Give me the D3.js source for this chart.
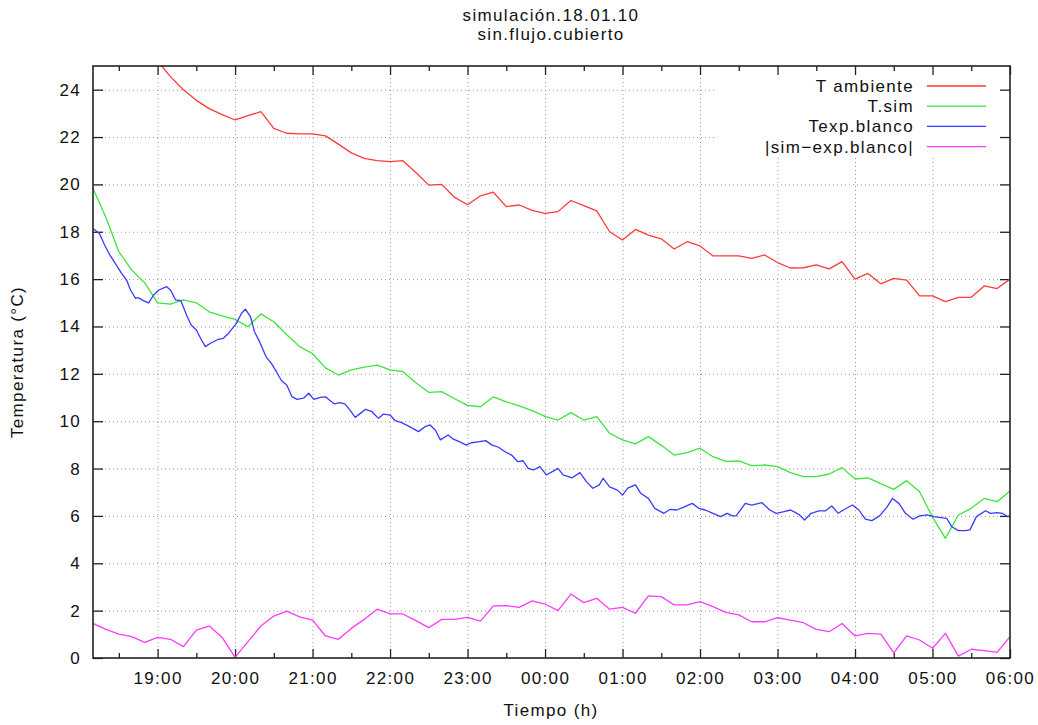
<!DOCTYPE html>
<html lang="es">
<head>
<meta charset="UTF-8">
<title>simulación.18.01.10</title>
<script src="https://d3js.org/d3.v7.min.js"></script>
<style>
  body { margin: 0; background: #fff; }
  text { font-family: "Liberation Sans", Arial, sans-serif; font-size: 17px; letter-spacing: 1.35px; fill: #111; }
</style>
</head>
<body>
<script>
    const width  = 1038;
    const height = 725;
    const margin = {top: 66, right: 28, bottom: 67, left: 93};
    const w = width - margin.left - margin.right;
    const h = height - margin.top - margin.bottom;

    // 10 minute samples (T ambiente, T.sim, |sim-exp|)
    const sampleTimes = [
        "18:10","18:20","18:30","18:40","18:50",
        "19:00","19:10","19:20","19:30","19:40","19:50",
        "20:00","20:10","20:20","20:30","20:40","20:50",
        "21:00","21:10","21:20","21:30","21:40","21:50",
        "22:00","22:10","22:20","22:30","22:40","22:50",
        "23:00","23:10","23:20","23:30","23:40","23:50",
        "00:00","00:10","00:20","00:30","00:40","00:50",
        "01:00","01:10","01:20","01:30","01:40","01:50",
        "02:00","02:10","02:20","02:30","02:40","02:50",
        "03:00","03:10","03:20","03:30","03:40","03:50",
        "04:00","04:10","04:20","04:30","04:40","04:50",
        "05:00","05:10","05:20","05:30","05:40","05:50",
        "06:00"
    ];

    const tAmbiente = [
        28.3,27.6,27.0,26.4,25.8,
        25.2,24.55,24.0,23.55,23.2,22.95,
        22.72,22.9,23.07,22.37,22.16,22.13,
        22.13,22.05,21.7,21.33,21.1,21.0,
        20.96,21.0,20.5,19.97,20.0,19.45,
        19.14,19.52,19.67,19.06,19.13,18.9,
        18.78,18.85,19.32,19.1,18.88,18.0,
        17.65,18.1,17.86,17.7,17.27,17.58,
        17.4,16.98,16.98,16.98,16.88,17.02,
        16.7,16.47,16.48,16.6,16.43,16.74,
        16.0,16.24,15.8,16.03,15.96,15.29,
        15.29,15.05,15.23,15.23,15.71,15.6,
        16.0
    ];

    const tSim = [
        19.83,18.6,17.16,16.38,15.85,
        15.0,14.94,15.12,15.0,14.62,14.45,
        14.3,13.99,14.53,14.2,13.65,13.15,
        12.85,12.25,11.95,12.17,12.28,12.37,
        12.17,12.09,11.62,11.22,11.25,10.95,
        10.67,10.61,11.03,10.82,10.65,10.45,
        10.2,10.05,10.36,10.05,10.19,9.49,
        9.21,9.04,9.35,8.98,8.57,8.67,
        8.86,8.5,8.3,8.32,8.12,8.15,
        8.08,7.83,7.66,7.66,7.77,8.04,
        7.56,7.61,7.36,7.12,7.49,7.02,
        5.95,5.05,6.04,6.32,6.74,6.6,
        7.05
    ];

    const simExpDiff = [
        1.46,1.21,1.01,0.9,0.66,
        0.87,0.79,0.48,1.18,1.35,0.87,
        0.03,0.69,1.35,1.77,1.98,1.74,
        1.6,0.93,0.79,1.25,1.63,2.06,
        1.86,1.86,1.58,1.28,1.63,1.63,
        1.72,1.56,2.2,2.21,2.14,2.41,
        2.28,2.0,2.70,2.34,2.52,2.06,
        2.14,1.89,2.62,2.59,2.24,2.24,
        2.38,2.17,1.93,1.82,1.53,1.53,
        1.7,1.6,1.49,1.21,1.11,1.46,
        0.93,1.04,1.01,0.22,0.93,0.76,
        0.41,1.04,0.08,0.37,0.31,0.24,
        0.9
    ];

    // measured series (Texp.blanco), irregular times
    const blueTimes = [
        "18:10","18:15","18:19","18:23","18:28","18:32","18:36","18:39","18:43","18:45",
        "18:49","18:53","18:57","19:01","19:07","19:10","19:14","19:18","19:23","19:26",
        "19:30","19:34","19:37","19:41","19:47","19:51","19:56","20:01","20:05","20:08",
        "20:12","20:15","20:19","20:24","20:28","20:32","20:36","20:40","20:44","20:48",
        "20:53","20:57","21:01","21:06","21:10","21:13","21:17","21:21","21:25","21:29",
        "21:33","21:37","21:41","21:46","21:51","21:55","22:00","22:04","22:09","22:15",
        "22:22","22:27","22:31","22:35","22:39","22:45","22:49","22:54","22:59","23:03",
        "23:08","23:14","23:19","23:24","23:29","23:34","23:39","23:43","23:47","23:51",
        "23:56","00:01","00:06","00:10","00:14","00:21","00:27","00:32","00:37","00:42",
        "00:45","00:50","00:56","01:00","01:04","01:10","01:14","01:20","01:25","01:32",
        "01:37","01:42","01:47","01:54","01:59","02:04","02:10","02:16","02:21","02:25",
        "02:28","02:35","02:40","02:48","02:54","02:59","03:05","03:10","03:14","03:17",
        "03:21","03:26","03:32","03:37","03:42","03:47","03:52","03:58","04:03","04:08",
        "04:13","04:19","04:25","04:29","04:34","04:39","04:45","04:50","04:56","05:01",
        "05:11","05:15","05:20","05:25","05:29","05:34","05:41","05:45","05:50","05:54",
        "05:58","06:00"
    ];
    const blueValues = [
        18.14,17.93,17.44,17.02,16.6,16.25,15.96,15.54,15.19,15.22,
        15.09,15.0,15.33,15.54,15.68,15.54,15.12,15.09,14.41,14.06,
        13.85,13.43,13.15,13.29,13.46,13.5,13.78,14.13,14.56,14.73,
        14.41,13.78,13.36,12.72,12.45,12.09,11.71,11.53,11.04,10.92,
        10.97,11.18,10.92,11.01,11.03,10.9,10.73,10.78,10.73,10.47,
        10.16,10.33,10.5,10.4,10.12,10.3,10.26,10.02,9.94,9.77,
        9.56,9.77,9.84,9.63,9.21,9.42,9.24,9.13,8.99,9.09,
        9.13,9.18,8.99,8.9,8.71,8.57,8.29,8.33,8.01,7.94,
        8.08,7.73,7.88,8.01,7.73,7.61,7.83,7.45,7.17,7.31,
        7.59,7.23,7.09,6.88,7.17,7.31,6.96,6.74,6.32,6.11,
        6.28,6.25,6.36,6.53,6.32,6.25,6.11,5.97,6.11,6.0,
        6.0,6.53,6.46,6.56,6.25,6.11,6.18,6.25,6.14,6.04,
        5.83,6.11,6.21,6.21,6.42,6.11,6.28,6.46,6.25,5.86,
        5.8,6.0,6.39,6.74,6.53,6.11,5.86,6.0,6.04,5.97,
        5.9,5.54,5.38,5.38,5.41,5.97,6.22,6.11,6.14,6.11,
        5.97,6.0
    ];

    const hourTicks = ["19:00","20:00","21:00","22:00","23:00","00:00",
                       "01:00","02:00","03:00","04:00","05:00","06:00"];
    const halfHourTicks = ["18:30","19:30","20:30","21:30","22:30","23:30",
                           "00:30","01:30","02:30","03:30","04:30","05:30"];
    const yTicks = [0,2,4,6,8,10,12,14,16,18,20,22,24];

    const seriesNames  = ["T ambiente", "T.sim", "Texp.blanco", "|sim\u2212exp.blanco|"];
    const seriesColors = ["#ff3a3a", "#3ae63a", "#3a3aff", "#ff3aff"];

    // evening belongs to 18.01.10, early hours to the next day
    function toDate(s) {
        const [hh, mm] = s.split(":").map(Number);
        return new Date(2010, 0, hh < 12 ? 19 : 18, hh, mm);
    }

    const series = [
        sampleTimes.map((t, i) => ({t: toDate(t), v: tAmbiente[i]})),
        sampleTimes.map((t, i) => ({t: toDate(t), v: tSim[i]})),
        blueTimes.map((t, i) => ({t: toDate(t), v: blueValues[i]})),
        sampleTimes.map((t, i) => ({t: toDate(t), v: simExpDiff[i]}))
    ];

    const x = d3.scaleTime()
                .domain([toDate("18:10"), toDate("06:00")])
                .range([0, w]);
    const y = d3.scaleLinear()
                .domain([0, 25])
                .range([h, 0]);

    const svg = d3.select("body").append("svg")
                  .attr("width", width).attr("height", height);

    svg.append("defs").append("clipPath").attr("id", "plot-clip")
       .append("rect").attr("width", w).attr("height", h);

    const g = svg.append("g").attr("transform", `translate(${margin.left},${margin.top})`);

    // dotted grid
    const grid = g.append("g").attr("stroke", "#9a9a9a").attr("stroke-dasharray", "1,3");
    grid.selectAll(".gx").data(hourTicks.slice(0, -1)).join("line")
        .attr("x1", d => x(toDate(d)) + 0.5).attr("x2", d => x(toDate(d)) + 0.5)
        .attr("y1", 0).attr("y2", h);
    grid.selectAll(".gy").data(yTicks.slice(1)).join("line")
        .attr("x1", 0).attr("x2", w)
        .attr("y1", d => y(d) + 0.5).attr("y2", d => y(d) + 0.5);

    // legend background hides the grid behind the key
    g.append("rect").attr("x", 623).attr("y", 1).attr("width", w - 624).attr("height", 91)
     .attr("fill", "#fff");

    // axes (ticks drawn inward, mirrored on top and right)
    const fmt = d3.timeFormat("%H:%M");
    g.append("g").attr("transform", `translate(0,${h})`)
        .call(d3.axisBottom(x).tickValues(hourTicks.map(toDate)).tickFormat(fmt)
                .tickSize(-9).tickPadding(14));
    g.append("g").attr("transform", `translate(0,${h})`)
        .call(d3.axisBottom(x).tickValues(halfHourTicks.map(toDate)).tickFormat("").tickSize(-5));
    g.append("g")
        .call(d3.axisTop(x).tickValues(hourTicks.map(toDate)).tickFormat("").tickSize(-9));
    g.append("g")
        .call(d3.axisTop(x).tickValues(halfHourTicks.map(toDate)).tickFormat("").tickSize(-5));
    g.append("g")
        .call(d3.axisLeft(y).tickValues(yTicks).tickSize(-10).tickPadding(12));
    g.append("g").attr("transform", `translate(${w},0)`)
        .call(d3.axisRight(y).tickValues(yTicks).tickFormat("").tickSize(-10));
    g.selectAll(".domain").remove();
    g.selectAll(".tick line").attr("stroke", "#222").attr("stroke-width", 1.3);

    // lines
    const line = d3.line().x(d => x(d.t)).y(d => y(d.v));
    g.append("g").attr("clip-path", "url(#plot-clip)")
     .selectAll("path").data(series).join("path")
        .attr("d", line)
        .attr("fill", "none")
        .attr("stroke", (d, i) => seriesColors[i])
        .attr("stroke-width", 1.3)
        .attr("stroke-linejoin", "round");

    // frame
    g.append("rect").attr("width", w).attr("height", h)
     .attr("fill", "none").attr("stroke", "#222").attr("stroke-width", 1.6);

    // legend
    const legend = g.append("g");
    seriesNames.forEach((name, i) => {
        const yy = 26 + i * 20.2;
        legend.append("text").attr("x", 821).attr("y", yy)
              .attr("text-anchor", "end").text(name);
        legend.append("line").attr("x1", 834).attr("x2", 893)
              .attr("y1", yy - 6).attr("y2", yy - 6)
              .attr("stroke", seriesColors[i]).attr("stroke-width", 1.3);
    });

    // titles
    svg.append("text").attr("x", 551).attr("y", 21).attr("text-anchor", "middle")
       .text("simulación.18.01.10");
    svg.append("text").attr("x", 551).attr("y", 40).attr("text-anchor", "middle")
       .text("sin.flujo.cubierto");
    svg.append("text").attr("x", 551).attr("y", 716).attr("text-anchor", "middle")
       .text("Tiempo (h)");
    svg.append("text").attr("transform", "translate(23,362) rotate(-90)")
       .attr("text-anchor", "middle").text("Temperatura (°C)");
</script>
</body>
</html>
